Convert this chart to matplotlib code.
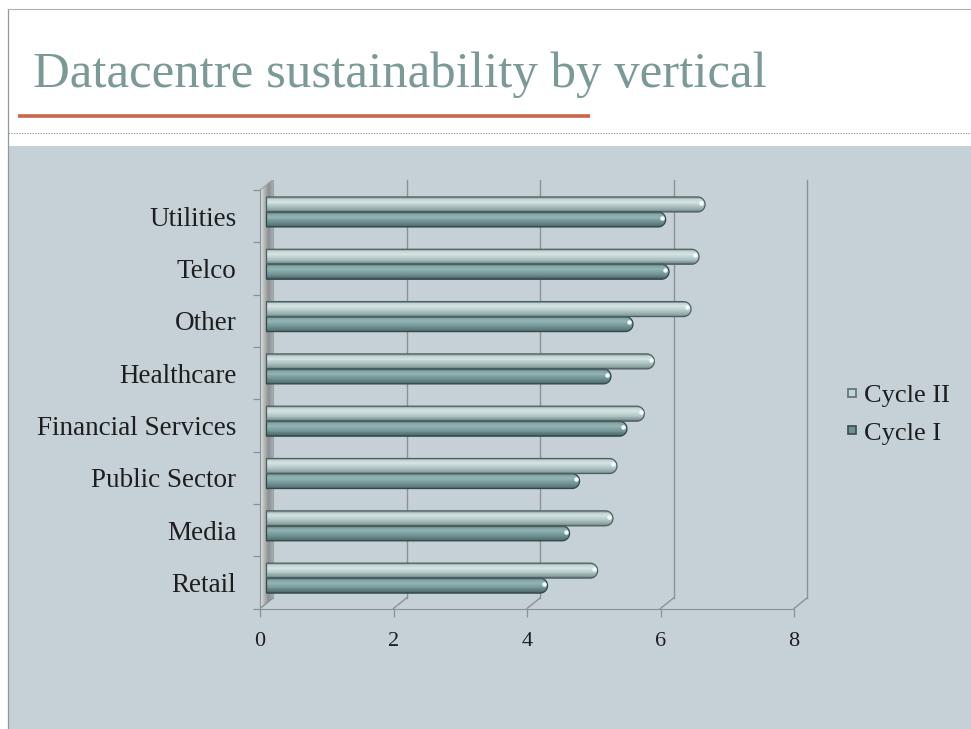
import numpy as np
import matplotlib
matplotlib.use("Agg")
import matplotlib.pyplot as plt
from matplotlib.patches import Rectangle, Polygon, PathPatch
from matplotlib.path import Path
from matplotlib.lines import Line2D
from matplotlib.colors import LinearSegmentedColormap

plt.rcParams["font.family"] = ["Liberation Serif", "DejaVu Serif"]

# verticals, listed top to bottom as they appear on the chart
categories = ["Utilities", "Telco", "Other", "Healthcare",
              "Financial Services", "Public Sector", "Media", "Retail"]
cycle_2 = [6.57, 6.48, 6.36, 5.81, 5.66, 5.25, 5.19, 4.96]
cycle_1 = [5.98, 6.03, 5.49, 5.16, 5.40, 4.69, 4.54, 4.21]
series_names = ["Cycle II", "Cycle I"]
x_ticks = [0, 2, 4, 6, 8]

W, H = 971, 729


def fx(px):
    return px / W


def fy(py):
    return 1 - py / H


fig = plt.figure(figsize=(W / 100, H / 100), dpi=100)
fig.patch.set_facecolor("white")

# slide furniture
fig.add_artist(Rectangle((fx(8), 0), 1 - fx(8), fy(146), transform=fig.transFigure,
                         facecolor="#c6d1d7", edgecolor="none", zorder=0))
fig.add_artist(Line2D([fx(7.5), fx(7.5)], [0, fy(9)], transform=fig.transFigure,
                      color="#8e9c9c", lw=0.9))
fig.add_artist(Line2D([fx(7.5), 1], [fy(9), fy(9)], transform=fig.transFigure,
                      color="#a8b4b4", lw=0.8))
fig.add_artist(Line2D([fx(8), 1], [fy(133), fy(133)], transform=fig.transFigure,
                      color="#8e9c9c", lw=0.8, ls=(0, (1.2, 1.2))))
fig.text(fx(33), fy(87), "Datacentre sustainability by vertical", fontsize=36.6,
         color="#7b9997", va="baseline", ha="left")
fig.add_artist(Line2D([fx(18), fx(590)], [fy(116), fy(116)], transform=fig.transFigure,
                      color="#c9674c", lw=2.6, solid_capstyle="butt"))

# plot area: x runs 0..8 on the front plane, back plane is shifted up/right
ax = fig.add_axes([fx(260), fy(608.5), fx(807) - fx(260), fy(179.5) - fy(608.5)])
ax.set_facecolor("none")
dxd = 13 / 66.75      # depth offset in x units
dyd = 10.5 / 52.32    # depth offset in category units
n_cat = len(categories)
ax.set_xlim(0, 8 + dxd)
ax.set_ylim(0, n_cat + dyd)

grid_c = "#8c9191"

# side wall
wall = Polygon([(0, 0), (0, n_cat), (dxd, n_cat + dyd), (dxd, dyd)], closed=True,
               facecolor="none", edgecolor="none")
ax.add_patch(wall)
wall_grad = np.linspace(0, 1, 64).reshape(1, -1)
wall_cmap = LinearSegmentedColormap.from_list("wall", ["#e4e8e8", "#b4b8b9", "#8c9092", "#a9adae"])
img = ax.imshow(wall_grad, cmap=wall_cmap, extent=[0, dxd, 0, n_cat + dyd],
                aspect="auto", zorder=1, interpolation="bilinear")
img.set_clip_path(wall)
ax.plot([dxd, dxd], [dyd, n_cat + dyd], color="#9ea3a4", lw=0.8, zorder=1)
ax.plot([0, dxd], [n_cat, n_cat + dyd], color="#9ea3a4", lw=0.8, zorder=1)

# back gridlines and floor diagonals
for v in x_ticks[1:]:
    ax.plot([v + dxd, v + dxd], [dyd, n_cat + dyd], color=grid_c, lw=1.0, zorder=1,
            clip_on=False)
    ax.plot([v, v + dxd], [0, dyd], color=grid_c, lw=1.0, zorder=1, clip_on=False)
ax.plot([0, dxd], [0, dyd], color=grid_c, lw=1.0, zorder=1)

# cylinder-style bars
bh = 15 / 52.32
dxm, dym = dxd / 2, dyd / 2 - 0.02
rx = (bh * 52.32 / 2) / 66.75
n_strip = 16

cmap_2 = LinearSegmentedColormap.from_list(
    "c2", [(0, "#55696a"), (0.12, "#8aa1a1"), (0.4, "#b3c7c7"),
           (0.68, "#d5e4e4"), (0.85, "#c3d5d5"), (1, "#7f9595")])
cmap_1 = LinearSegmentedColormap.from_list(
    "c1", [(0, "#3a5252"), (0.12, "#587878"), (0.4, "#769898"),
           (0.68, "#93b4b4"), (0.85, "#85a6a6"), (1, "#587272")])


def capsule(x0, x1, yc, h):
    ry = h / 2
    t = np.linspace(-np.pi / 2, np.pi / 2, 30)
    arc = np.column_stack([x1 - rx + rx * np.cos(t), yc + ry * np.sin(t)])
    verts = np.vstack([[x0, yc - ry], arc, [x0, yc + ry], [x0, yc - ry]])
    codes = [Path.MOVETO] + [Path.LINETO] * (len(verts) - 2) + [Path.CLOSEPOLY]
    return Path(verts, codes)


centers = np.arange(n_cat)[::-1] + 0.5
for vals, cmap, off, edge in [(cycle_1, cmap_1, -bh / 2, "#34474a"),
                              (cycle_2, cmap_2, bh / 2, "#4f5f60")]:
    yc = centers + off + dym
    outlines = []
    for y, v in zip(yc, vals):
        p = PathPatch(capsule(dxm, dxm + v, y, bh), facecolor="none",
                      edgecolor=edge, lw=0.9, zorder=4)
        ax.add_patch(p)
        outlines.append(p)
    for k in range(n_strip):
        ys = yc - bh / 2 + (k + 0.5) * bh / n_strip
        bars = ax.barh(ys, vals, height=bh / n_strip * 1.08, left=dxm,
                       color=cmap((k + 0.5) / n_strip), lw=0, zorder=3)
        for rect, clip in zip(bars.patches, outlines):
            rect.set_clip_path(clip)
    # specular spot on each cap
    ax.plot(np.array(vals) + dxm - rx * 0.5, yc + bh * 0.12, ls="none", marker="o",
            ms=3.2, mfc="#f4fbfb", mec="none", zorder=5)

# front axis lines and ticks
for side in ["top", "right"]:
    ax.spines[side].set_visible(False)
ax.spines["bottom"].set_bounds(0, 8)
ax.spines["left"].set_bounds(0, n_cat)
ax.spines["bottom"].set_color(grid_c)
ax.spines["left"].set_color(grid_c)
ax.spines["bottom"].set_zorder(2)
ax.spines["left"].set_zorder(2)

ax.set_xticks(x_ticks)
ax.set_xticklabels([str(t) for t in x_ticks])
ax.tick_params(axis="x", length=6, width=0.9, color=grid_c, pad=11,
               labelsize=16, labelcolor="#1e1e1e")
ax.set_yticks(range(n_cat + 1))
ax.set_yticklabels([])
ax.tick_params(axis="y", which="major", length=5, width=0.9, color=grid_c)
ax.set_yticks(centers, minor=True)
ax.set_yticklabels(categories, minor=True)
ax.tick_params(axis="y", which="minor", length=0, pad=17, labelsize=19.5,
               labelcolor="#1e1e1e")

handles = [
    Line2D([], [], ls="none", marker="s", ms=6, mfc="#c3d6d6", mec="#5f6f70", mew=1.2),
    Line2D([], [], ls="none", marker="s", ms=6, mfc="#6f9191", mec="#3a4c4d", mew=1.2),
]
fig.legend(handles, series_names, loc="center left",
           bbox_to_anchor=(fx(844), fy(414)), frameon=False, fontsize=19,
           handlelength=0.6, handletextpad=0.15, labelspacing=0.55,
           borderpad=0, borderaxespad=0, labelcolor="#1e1e1e")

fig.savefig("out.png", dpi=100)
